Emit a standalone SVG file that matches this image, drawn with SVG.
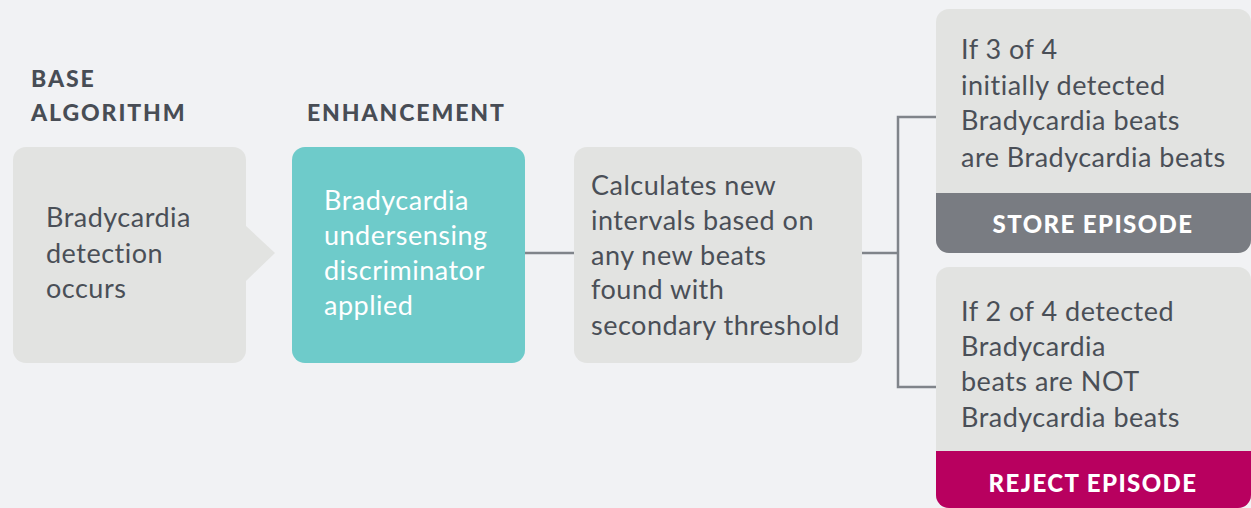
<svg xmlns="http://www.w3.org/2000/svg" width="1251" height="508" viewBox="0 0 1251 508">
<style>
.bg{fill:#f1f2f4}
.box{fill:#e2e3e1}
.t{font-family:Lato,"Liberation Sans",sans-serif;font-size:27px;letter-spacing:0.5px;fill:#4a4f57}
.w{fill:#ffffff}
.h{font-family:Lato,"Liberation Sans",sans-serif;font-size:23px;font-weight:900;letter-spacing:1.9px;fill:#484d55}
.f{font-family:Lato,"Liberation Sans",sans-serif;font-size:24px;font-weight:900;letter-spacing:1.4px;fill:#ffffff;text-anchor:middle}
.c{fill:none;stroke:#80848a;stroke-width:2.5}
</style>
<rect class="bg" x="0" y="0" width="1251" height="508"/>
<g id="headers">
<text class="h" x="31" y="87">BASE</text>
<text class="h" x="31" y="121">ALGORITHM</text>
<text class="h" x="307" y="121">ENHANCEMENT</text>
</g>
<g id="connectors">
<path class="c" d="M525 253 H574"/>
<path class="c" d="M862 253 H898"/>
<path class="c" d="M936 117 H898 V387 H936"/>
</g>
<g id="base">
<rect class="box" x="13" y="147" width="233" height="216" rx="13"/>
<path class="box" d="M245 225 L275 253 L245 282 Z"/>
<text class="t" x="46" y="227">Bradycardia</text>
<text class="t" x="46" y="263">detection</text>
<text class="t" x="46" y="298">occurs</text>
</g>
<g id="enhancement">
<rect x="292" y="147" width="233" height="216" rx="13" fill="#6ecbca"/>
<text class="t w" x="324" y="210">Bradycardia</text>
<text class="t w" x="324" y="245">undersensing</text>
<text class="t w" x="324" y="280">discriminator</text>
<text class="t w" x="324" y="315">applied</text>
</g>
<g id="calculate">
<rect class="box" x="574" y="147" width="288" height="216" rx="13"/>
<text class="t" x="591" y="195">Calculates new</text>
<text class="t" x="591" y="230">intervals based on</text>
<text class="t" x="591" y="265">any new beats</text>
<text class="t" x="591" y="299">found with</text>
<text class="t" x="591" y="335">secondary threshold</text>
</g>
<g id="store">
<clipPath id="cs"><rect x="936" y="9" width="315" height="244" rx="13"/></clipPath>
<g clip-path="url(#cs)">
<rect class="box" x="936" y="9" width="315" height="244"/>
<rect x="936" y="193" width="315" height="60" fill="#797c82"/>
</g>
<text class="t" x="961" y="59">If 3 of 4</text>
<text class="t" x="961" y="95">initially detected</text>
<text class="t" x="961" y="130">Bradycardia beats</text>
<text class="t" x="961" y="167">are Bradycardia beats</text>
<text class="f" x="1093" y="233">STORE EPISODE</text>
</g>
<g id="reject">
<clipPath id="cr"><rect x="936" y="267" width="315" height="241" rx="13"/></clipPath>
<g clip-path="url(#cr)">
<rect class="box" x="936" y="267" width="315" height="241"/>
<rect x="936" y="451" width="315" height="57" fill="#b8005f"/>
</g>
<text class="t" x="961" y="321">If 2 of 4 detected</text>
<text class="t" x="961" y="356">Bradycardia</text>
<text class="t" x="961" y="391">beats are NOT</text>
<text class="t" x="961" y="427">Bradycardia beats</text>
<text class="f" x="1093" y="492">REJECT EPISODE</text>
</g>
</svg>
